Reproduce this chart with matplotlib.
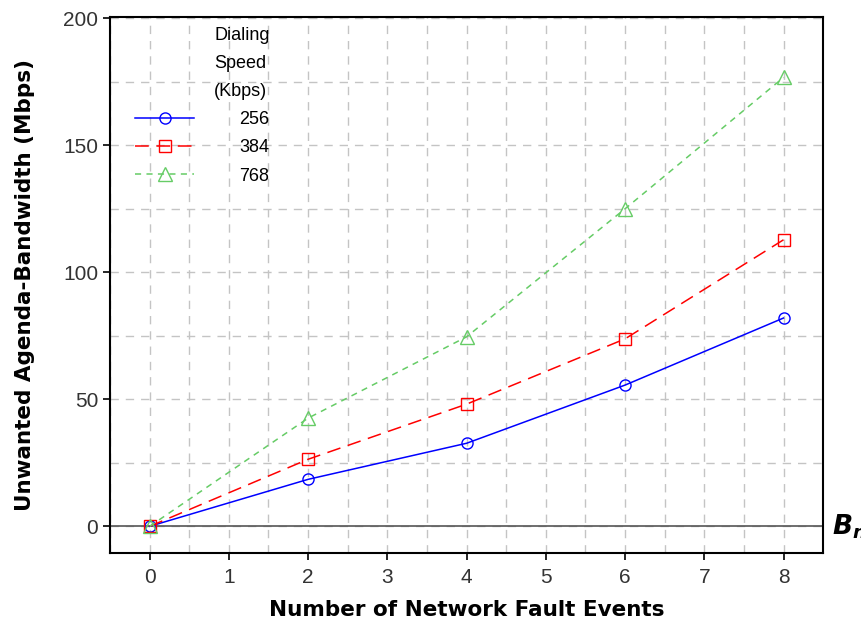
import numpy as np
import matplotlib.pyplot as plt
from matplotlib.ticker import MultipleLocator

plt.rcParams['mathtext.fontset'] = 'custom'
plt.rcParams['mathtext.it'] = 'DejaVu Sans:bold:italic'
plt.rcParams['mathtext.rm'] = 'DejaVu Sans:bold'

# datos
eventos = [0, 2, 4, 6, 8]
bw_256 = [0, 18.5, 32.7, 55.6, 82.0]
bw_384 = [0, 26.4, 48.1, 73.8, 112.8]
bw_768 = [0, 42.6, 74.6, 125.0, 176.7]
etiquetas = ['256', '384', '768']

fig = plt.figure(figsize=(8.61, 6.21), dpi=100)
ax = fig.add_axes([0.1278, 0.1095, 0.8282, 0.8631])

ax.plot(eventos, bw_256, color='#0000ff', lw=1.1, marker='o', ms=8,
        mfc='none', mec='#0000ff', label=etiquetas[0])
ax.plot(eventos, bw_384, color='#ff0000', lw=1.1, ls=(0, (9, 5)), marker='s', ms=9,
        mfc='none', mec='#ff0000', label=etiquetas[1])
ax.plot(eventos, bw_768, color='#66cc66', lw=1.1, ls=(0, (4, 3.5)), marker='^', ms=9.5,
        mfc='none', mec='#66cc66', label=etiquetas[2])

ax.axhline(0, color='#555555', lw=1.2, zorder=1)

ax.set_xlim(-0.5, 8.5)
ax.set_ylim(-10.5, 200.5)
ax.xaxis.set_major_locator(MultipleLocator(1))
ax.xaxis.set_minor_locator(MultipleLocator(0.5))
ax.yaxis.set_major_locator(MultipleLocator(50))
ax.yaxis.set_minor_locator(MultipleLocator(25))
ax.grid(True, which='both', color='#c4c4c4', ls=(0, (6, 5)), lw=1)
ax.set_axisbelow(True)
ax.tick_params(which='major', direction='out', length=5, width=1.2,
               labelsize=15, labelcolor='#333333')
ax.tick_params(axis='x', pad=6)
ax.tick_params(which='minor', length=0)
for lab in ax.get_xticklabels() + ax.get_yticklabels():
    lab.set_family('Liberation Sans')
for s in ax.spines.values():
    s.set_linewidth(1.5)

ax.set_xlabel('Number of Network Fault Events', fontsize=15.5, fontweight='bold', labelpad=9)
ax.set_ylabel('Unwanted Agenda-Bandwidth (Mbps)', fontsize=15.5, fontweight='bold', labelpad=20)

ax.text(1.012, 0, r'$B_n$', transform=ax.get_yaxis_transform(), fontsize=19,
        va='center', ha='left', clip_on=False)

leg = ax.legend(title='Dialing\nSpeed\n(Kbps)', loc='upper left', bbox_to_anchor=(0.012, 1.012),
                frameon=False, handlelength=3.3, alignment='right', fontsize=13,
                title_fontsize=13, labelspacing=0.62, handletextpad=2.5)
leg.get_title().set_linespacing(1.85)
leg.get_title().set_family('Liberation Sans')
for t in leg.get_texts():
    t.set_family('Liberation Sans')

plt.savefig('out.png', dpi=100)
